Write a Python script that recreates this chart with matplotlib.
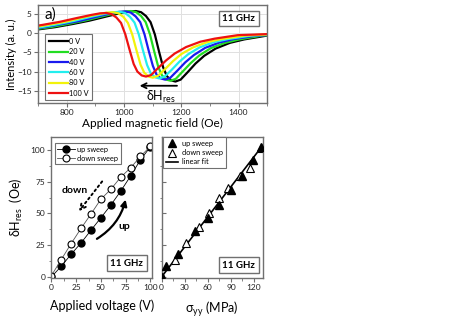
import numpy as np
import matplotlib
matplotlib.use("Agg")
import matplotlib.pyplot as plt
from matplotlib.ticker import MultipleLocator

plt.rcParams['font.family'] = ['Lato', 'DejaVu Sans']
plt.rcParams['mathtext.default'] = 'regular'

# ---- panel a: FMR derivative spectra ----
volt_labels = ["0 V", "20 V", "40 V", "60 V", "80 V", "100 V"]
colors = ["#000000", "#22dd22", "#1a1aee", "#22eeee", "#f2f20a", "#ee1111"]

field_0V = [700, 760, 820, 880, 940, 990, 1020, 1042, 1060, 1077, 1093, 1108, 1122, 1137, 1150, 1165, 1180, 1198, 1222, 1250, 1280, 1320, 1370, 1420, 1500, 1610]
int_0V = [1.0, 1.6, 2.4, 3.3, 4.4, 5.3, 5.7, 5.8, 5.5, 4.5, 2.9, -0.3, -4.6, -8.9, -11.2, -12.3, -12.6, -12.1, -10.2, -7.9, -5.9, -4.0, -2.5, -1.6, -0.6, -0.2]
field_20V = [683, 743, 803, 863, 923, 973, 1003, 1025, 1043, 1060, 1076, 1091, 1105, 1120, 1133, 1148, 1163, 1181, 1205, 1233, 1263, 1303, 1353, 1403, 1483, 1593]
int_20V = [1.0, 1.6, 2.4, 3.3, 4.4, 5.3, 5.7, 5.8, 5.5, 4.5, 2.9, -0.3, -4.5, -8.8, -11.0, -12.1, -12.4, -11.9, -10.0, -7.8, -5.8, -3.9, -2.5, -1.6, -0.6, -0.2]
field_40V = [664, 724, 784, 844, 904, 954, 984, 1006, 1024, 1041, 1057, 1072, 1086, 1101, 1114, 1129, 1144, 1162, 1186, 1214, 1244, 1284, 1334, 1384, 1464, 1574]
int_40V = [1.0, 1.6, 2.4, 3.2, 4.3, 5.2, 5.6, 5.7, 5.4, 4.4, 2.9, -0.3, -4.4, -8.5, -10.8, -11.8, -12.1, -11.6, -9.8, -7.6, -5.7, -3.8, -2.4, -1.5, -0.6, -0.2]
field_60V = [644, 704, 764, 824, 884, 934, 964, 986, 1004, 1021, 1037, 1052, 1066, 1081, 1094, 1109, 1124, 1142, 1166, 1194, 1224, 1264, 1314, 1364, 1444, 1554]
int_60V = [1.0, 1.5, 2.3, 3.2, 4.3, 5.1, 5.5, 5.6, 5.3, 4.3, 2.8, -0.3, -4.3, -8.3, -10.5, -11.5, -11.8, -11.3, -9.6, -7.4, -5.5, -3.7, -2.3, -1.5, -0.6, -0.2]
field_80V = [621, 681, 741, 801, 861, 911, 941, 963, 981, 998, 1014, 1029, 1043, 1058, 1071, 1086, 1101, 1119, 1143, 1171, 1201, 1241, 1291, 1341, 1421, 1531]
int_80V = [0.9, 1.5, 2.3, 3.1, 4.2, 5.0, 5.4, 5.5, 5.2, 4.3, 2.7, -0.3, -4.2, -8.2, -10.3, -11.3, -11.6, -11.1, -9.4, -7.3, -5.4, -3.7, -2.3, -1.5, -0.6, -0.2]
field_100V = [597, 657, 717, 777, 837, 887, 917, 939, 957, 974, 990, 1005, 1019, 1034, 1047, 1062, 1077, 1095, 1119, 1147, 1177, 1217, 1267, 1317, 1397, 1507]
int_100V = [0.9, 1.5, 2.2, 3.0, 4.0, 4.8, 5.2, 5.3, 5.0, 4.1, 2.7, -0.3, -4.1, -8.0, -10.0, -11.0, -11.3, -10.9, -9.1, -7.1, -5.3, -3.6, -2.2, -1.4, -0.5, -0.2]

fields = [field_0V, field_20V, field_40V, field_60V, field_80V, field_100V]
intens = [int_0V, int_20V, int_40V, int_60V, int_80V, int_100V]

# ---- resonance shift vs voltage ----
voltage = [0, 10, 20, 30, 40, 50, 60, 70, 80, 90, 100]
dH_up_V = [0, 8.4, 17.9, 26.8, 36.8, 46.6, 56.6, 67.6, 79.5, 92.4, 102.5]
dH_down_V = [1, 13.7, 26.3, 38.3, 49.6, 61.3, 69, 78.6, 86, 95, 103]

# ---- resonance shift vs stress ----
sigma_up = [0, 6.1, 21.4, 43.7, 60.3, 75.1, 89.5, 104.8, 118.8, 128.4]
dH_up_s = [0, 8.4, 17.9, 36.1, 46.1, 56.6, 68.4, 79.7, 92.1, 102.6]
sigma_down = [0, 17.5, 32.3, 48.0, 62.0, 74.2, 86.0, 101.3, 115.3, 128.4]
dH_down_s = [1, 13.2, 27.1, 39.5, 50.0, 62.4, 70.3, 79.5, 85.5, 101.8]
fit_sigma = [0, 131]
fit_dH = [0, 103.5]

spine_c = "#707070"

def style(ax):
    for s in ax.spines.values():
        s.set_color(spine_c)
        s.set_linewidth(1.0)
    ax.tick_params(which="both", direction="out", color=spine_c, labelsize=6, pad=1.5, labelcolor="#222222")
    ax.tick_params(which="major", length=3)
    ax.tick_params(which="minor", length=1.8)

def ghz_box(ax, x, y):
    ax.text(x, y, "11 GHz", transform=ax.transAxes, ha="center", va="center",
            fontsize=7, fontweight="bold",
            bbox=dict(boxstyle="square,pad=0.35", fc="white", ec=spine_c, lw=1.0))

fig = plt.figure(figsize=(4.63, 3.28), dpi=100)

# top panel
ax = fig.add_axes([0.082, 0.686, 0.495, 0.299])
for f, y, c, lab in zip(fields, intens, colors, volt_labels):
    ax.plot(f, y, color=c, lw=1.6, label=lab)
ax.set_xlim(700, 1500)
ax.set_ylim(-18.2, 7.4)
ax.xaxis.set_major_locator(MultipleLocator(200))
ax.xaxis.set_minor_locator(MultipleLocator(100))
ax.yaxis.set_major_locator(MultipleLocator(5))
ax.grid(True, which="major", color="#e0e0e0", lw=0.7)
ax.set_axisbelow(True)
style(ax)
ax.set_xlabel("Applied magnetic field (Oe)", fontsize=8.5, labelpad=1)
ax.set_ylabel("Intensity (a. u.)", fontsize=8, labelpad=0)
leg = ax.legend(loc="upper left", bbox_to_anchor=(0.03, 0.70), borderaxespad=0,
                fontsize=5.3, handlelength=2.6, handletextpad=0.2, labelspacing=0.45,
                fancybox=False, framealpha=1, borderpad=0.5)
leg.get_frame().set_edgecolor(spine_c)
leg.get_frame().set_linewidth(0.8)
ax.text(0.03, 0.90, "a)", transform=ax.transAxes, fontsize=11, ha="left", va="center")
ghz_box(ax, 0.876, 0.862)
ax.annotate("", xy=(1045, -13.7), xytext=(1195, -13.7),
            arrowprops=dict(arrowstyle="->", color="black", lw=1.3, mutation_scale=9))
ax.text(1128, -16.6, r"δH$_{res}$", fontsize=9, ha="center", va="center")

# bottom left: vs voltage
axl = fig.add_axes([0.111, 0.152, 0.217, 0.431])
axl.plot(voltage, dH_up_V, "-o", color="black", mfc="black", mec="black", ms=5,
         lw=0.6, label="up sweep", clip_on=True)
axl.plot(voltage, dH_down_V, "-o", color="#555555", mfc="white", mec="black", ms=5,
         mew=0.8, lw=0.6, label="down sweep", clip_on=True)
axl.set_xlim(0, 101.5)
axl.set_ylim(-1, 110.5)
axl.xaxis.set_major_locator(MultipleLocator(25))
axl.xaxis.set_minor_locator(MultipleLocator(12.5))
axl.yaxis.set_major_locator(MultipleLocator(25))
axl.yaxis.set_minor_locator(MultipleLocator(12.5))
style(axl)
axl.set_xlabel("Applied voltage (V)", fontsize=9, labelpad=6)
axl.set_ylabel(r"δH$_{res}$  (Oe)", fontsize=9, labelpad=4)
leg = axl.legend(loc="upper left", bbox_to_anchor=(0.035, 0.955), borderaxespad=0,
                 fontsize=5.3, handlelength=2.4, handletextpad=0.3, labelspacing=0.3,
                 fancybox=False, framealpha=1, borderpad=0.35)
leg.get_frame().set_edgecolor(spine_c)
leg.get_frame().set_linewidth(0.8)
axl.annotate("", xy=(26, 50), xytext=(53, 77),
             arrowprops=dict(arrowstyle="->", color="black", lw=1.4, ls=":", mutation_scale=10))
axl.text(24, 68, "down", fontsize=7.5, fontweight="bold", ha="center", va="center")
axl.annotate("", xy=(75, 61), xytext=(46, 30),
             arrowprops=dict(arrowstyle="-|>", color="black", lw=1.6, mutation_scale=9,
                             connectionstyle="arc3,rad=0.2", shrinkA=0, shrinkB=0))
axl.text(74, 40, "up", fontsize=7.5, fontweight="bold", ha="center", va="center")
ghz_box(axl, 0.75, 0.106)

# bottom right: vs stress
axr = fig.add_axes([0.349, 0.152, 0.218, 0.431])
axr.plot(fit_sigma, fit_dH, "-", color="black", lw=1.2, label="linear fit", zorder=1)
axr.plot(sigma_up, dH_up_s, "^", color="black", ms=5.5, ls="none", label="up sweep", zorder=3)
axr.plot(sigma_down, dH_down_s, "^", mfc="white", mec="black", mew=0.8, ms=5.5, ls="none",
         label="down sweep", zorder=2)
axr.set_xlim(0, 131)
axr.set_ylim(-1, 110.5)
axr.xaxis.set_major_locator(MultipleLocator(30))
axr.xaxis.set_minor_locator(MultipleLocator(15))
axr.yaxis.set_major_locator(MultipleLocator(25))
axr.yaxis.set_minor_locator(MultipleLocator(12.5))
style(axr)
axr.tick_params(axis="y", labelleft=False, direction="in")
axr.set_xlabel(r"σ$_{yy}$ (MPa)", fontsize=9, labelpad=6)
h, l = axr.get_legend_handles_labels()
leg = axr.legend([h[1], h[2], h[0]], [l[1], l[2], l[0]], loc="upper left",
                 bbox_to_anchor=(0.013, 0.998), borderaxespad=0,
                 fontsize=5.3, handlelength=1.6, handletextpad=0.6, labelspacing=0.3,
                 fancybox=False, framealpha=1, borderpad=0.4)
leg.get_frame().set_edgecolor(spine_c)
leg.get_frame().set_linewidth(0.8)
ghz_box(axr, 0.765, 0.092)

fig.savefig("out.png", dpi=100)
